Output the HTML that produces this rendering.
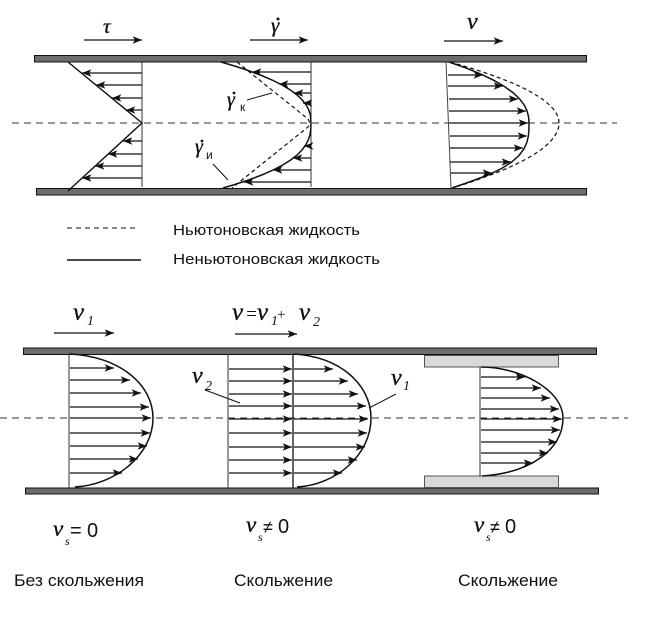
<!DOCTYPE html>
<html><head><meta charset="utf-8"><style>
html,body{margin:0;padding:0;background:#fff;}
svg{display:block;}
.ser{font-family:"Liberation Serif",serif;font-style:italic;fill:#111;stroke:#111;stroke-width:0.35;}
.sub{font-family:"Liberation Serif",serif;font-style:italic;fill:#111;}
.sans{font-family:"Liberation Sans",sans-serif;fill:#111;}
</style></head><body>
<svg width="667" height="624" viewBox="0 0 667 624" xmlns="http://www.w3.org/2000/svg">
<defs>
<marker id="ah" viewBox="0 0 10 8" refX="10" refY="4" markerWidth="10" markerHeight="7.5" orient="auto" markerUnits="userSpaceOnUse">
<path d="M0,0 L10,4 L0,8 L2.5,4 Z" fill="#111"/>
</marker>
</defs>

<!-- ================= TOP DIAGRAM ================= -->
<g stroke="#111" stroke-width="1.3" fill="none" marker-end="url(#ah)">
<line x1="84" y1="40" x2="142" y2="40"/>
<line x1="250" y1="40" x2="308" y2="40"/>
<line x1="444" y1="41" x2="503" y2="41"/>
</g>
<text class="ser" x="103" y="33" font-size="21">τ</text>
<text class="ser" x="271" y="32" font-size="21">γ</text>
<circle cx="278" cy="19" r="1.5" fill="#111"/>
<text class="ser" x="467" y="29" font-size="24">ν</text>

<line x1="12" y1="123" x2="617" y2="123" stroke="#333" stroke-width="1" stroke-dasharray="7,5"/>

<rect x="34.5" y="55.5" width="552" height="6.5" fill="#6d6d6d" stroke="#111" stroke-width="1"/>
<rect x="36.5" y="188.5" width="550" height="6.5" fill="#6d6d6d" stroke="#111" stroke-width="1"/>

<!-- section 1: tau -->
<line x1="142" y1="62" x2="142" y2="187" stroke="#333" stroke-width="1"/>
<polyline points="68,62 142,123 68,191" fill="none" stroke="#111" stroke-width="1.4"/>
<g stroke="#111" stroke-width="1.2" fill="none" marker-end="url(#ah)">
<line x1="142" y1="73" x2="82" y2="73"/>
<line x1="142" y1="85" x2="96" y2="85"/>
<line x1="142" y1="98" x2="112" y2="98"/>
<line x1="142" y1="110" x2="126" y2="110"/>
<line x1="142" y1="141" x2="123" y2="141"/>
<line x1="142" y1="154" x2="108" y2="154"/>
<line x1="142" y1="166" x2="95" y2="166"/>
<line x1="142" y1="178" x2="82" y2="178"/>
</g>

<!-- section 2: gamma dot -->
<line x1="311" y1="62" x2="311" y2="187" stroke="#333" stroke-width="1"/>
<path d="M237,62 L308,119 Q311,123 308,127 L232,188" fill="none" stroke="#111" stroke-width="1.2" stroke-dasharray="4,3"/>
<polyline fill="none" stroke="#111" stroke-width="1.5" points="221,62 234.6,66 246.8,70 260.4,75 272.1,80 282.1,85 290.4,90 297.1,95 302.3,100 306.2,105 308.8,110 310.4,115 311,123 310.7,130 309.9,135 308.3,140 305.7,145 302,150 297.1,155 290.7,160 282.7,165 273.1,170 261.7,175 248.5,180 233.2,185 223,188"/>
<g stroke="#111" stroke-width="1.2" fill="none" marker-end="url(#ah)">
<line x1="311" y1="72" x2="252" y2="72"/>
<line x1="311" y1="84" x2="279" y2="84"/>
<line x1="311" y1="93" x2="294" y2="93"/>
<line x1="311" y1="103" x2="303" y2="103"/>
<line x1="311" y1="146" x2="304" y2="146"/>
<line x1="311" y1="158" x2="293" y2="158"/>
<line x1="311" y1="170" x2="273" y2="170"/>
<line x1="311" y1="182" x2="244" y2="182"/>
</g>
<line x1="247" y1="100" x2="272" y2="93" stroke="#111" stroke-width="1"/>
<text class="ser" x="227" y="106" font-size="20">γ</text>
<circle cx="234" cy="93" r="1.4" fill="#111"/>
<text class="sans" x="240" y="111" font-size="12">к</text>
<line x1="213" y1="164" x2="228" y2="180" stroke="#111" stroke-width="1"/>
<text class="ser" x="195" y="153" font-size="20">γ</text>
<circle cx="202" cy="141" r="1.4" fill="#111"/>
<text class="sans" x="206" y="159" font-size="12">и</text>

<!-- section 3: velocity -->
<line x1="446" y1="62" x2="451" y2="188" stroke="#444" stroke-width="1"/>
<path d="M450,62 Q559,92.5 559,123 Q559,155.5 452,188" fill="none" stroke="#111" stroke-width="1.2" stroke-dasharray="4,3"/>
<polyline fill="none" stroke="#111" stroke-width="1.5" points="449,62 466.2,68.1 481.1,74.2 493.8,80.3 504.3,86.4 512.8,92.5 519.3,98.6 524,104.7 527,110.8 528.6,116.9 529,123 528.9,129.5 528.4,136 526.8,142.5 523.9,149 519,155.5 511.7,162 501.6,168.5 488,175 470.7,181.5 452,188"/>
<g stroke="#111" stroke-width="1.2" fill="none" marker-end="url(#ah)">
<line x1="448" y1="75" x2="483" y2="75"/>
<line x1="448" y1="86" x2="503" y2="86"/>
<line x1="449" y1="99" x2="518" y2="99"/>
<line x1="449" y1="111" x2="526" y2="111"/>
<line x1="449" y1="123" x2="528" y2="123"/>
<line x1="450" y1="136" x2="527" y2="136"/>
<line x1="450" y1="148" x2="523" y2="148"/>
<line x1="450" y1="162" x2="511" y2="162"/>
<line x1="451" y1="173" x2="492" y2="173"/>
</g>

<!-- legend -->
<line x1="67" y1="228" x2="138" y2="228" stroke="#111" stroke-width="1" stroke-dasharray="5,4"/>
<text class="sans" x="173" y="235" font-size="15" textLength="187" lengthAdjust="spacingAndGlyphs">Ньютоновская жидкость</text>
<line x1="67" y1="260" x2="141" y2="260" stroke="#111" stroke-width="1.5"/>
<text class="sans" x="173" y="264" font-size="15" textLength="207" lengthAdjust="spacingAndGlyphs">Неньютоновская жидкость</text>

<!-- ================= BOTTOM DIAGRAM ================= -->
<g stroke="#111" stroke-width="1.3" fill="none" marker-end="url(#ah)">
<line x1="54" y1="333" x2="114" y2="333"/>
<line x1="235" y1="334" x2="297" y2="334"/>
</g>
<text class="ser" x="73" y="320" font-size="25">ν</text>
<text class="sub" x="87" y="325" font-size="14">1</text>

<text class="ser" x="232" y="320" font-size="25">ν</text>
<text class="sub" x="245" y="320" font-size="19" font-style="normal">=</text>
<text class="ser" x="257" y="320" font-size="25">ν</text>
<text class="sub" x="271" y="325" font-size="14">1</text>
<text class="sub" x="276" y="319" font-size="15" font-style="normal" fill="#555">+</text>
<text class="ser" x="299" y="320" font-size="25">ν</text>
<text class="sub" x="313" y="326" font-size="14">2</text>

<line x1="0" y1="418" x2="628" y2="418" stroke="#333" stroke-width="1" stroke-dasharray="7,5"/>

<rect x="23.5" y="348" width="573" height="6.5" fill="#6d6d6d" stroke="#111" stroke-width="1"/>
<rect x="25.5" y="488" width="573" height="6" fill="#6d6d6d" stroke="#111" stroke-width="1"/>

<!-- section 1 -->
<line x1="69" y1="354" x2="69" y2="488" stroke="#333" stroke-width="1"/>
<path d="M69,354 C120,356 153,385 153,418 C153,455 115,485 75,487" fill="none" stroke="#111" stroke-width="1.5"/>
<g stroke="#111" stroke-width="1.2" fill="none" marker-end="url(#ah)">
<line x1="70" y1="368" x2="114" y2="368"/>
<line x1="70" y1="380" x2="130" y2="380"/>
<line x1="70" y1="393" x2="141" y2="393"/>
<line x1="70" y1="407" x2="149" y2="407"/>
<line x1="70" y1="418" x2="151" y2="418"/>
<line x1="70" y1="433" x2="150" y2="433"/>
<line x1="70" y1="446" x2="147" y2="446"/>
<line x1="70" y1="459" x2="138" y2="459"/>
<line x1="70" y1="473" x2="122" y2="473"/>
</g>

<!-- section 2 -->
<line x1="228" y1="354" x2="228" y2="488" stroke="#333" stroke-width="1"/>
<line x1="293" y1="354" x2="293" y2="488" stroke="#111" stroke-width="1.3"/>
<path d="M293,354 C340,356 371,385 371,418 C371,455 336,485 297,487" fill="none" stroke="#111" stroke-width="1.5"/>
<g stroke="#111" stroke-width="1.2" fill="none" marker-end="url(#ah)">
<line x1="229" y1="369" x2="292" y2="369"/>
<line x1="229" y1="381" x2="292" y2="381"/>
<line x1="229" y1="394" x2="292" y2="394"/>
<line x1="229" y1="406" x2="292" y2="406"/>
<line x1="229" y1="419" x2="292" y2="419"/>
<line x1="229" y1="433" x2="292" y2="433"/>
<line x1="229" y1="447" x2="292" y2="447"/>
<line x1="229" y1="460" x2="292" y2="460"/>
<line x1="229" y1="473" x2="292" y2="473"/>
<line x1="294" y1="369" x2="333" y2="369"/>
<line x1="294" y1="381" x2="348" y2="381"/>
<line x1="294" y1="394" x2="358" y2="394"/>
<line x1="294" y1="406" x2="366" y2="406"/>
<line x1="294" y1="419" x2="368" y2="419"/>
<line x1="294" y1="433" x2="367" y2="433"/>
<line x1="294" y1="447" x2="365" y2="447"/>
<line x1="294" y1="460" x2="357" y2="460"/>
<line x1="294" y1="473" x2="342" y2="473"/>
</g>
<line x1="205" y1="390" x2="240" y2="403" stroke="#111" stroke-width="1"/>
<text class="ser" x="192" y="383" font-size="24">ν</text>
<text class="sub" x="205" y="390" font-size="14" font-style="normal">2</text>
<line x1="396" y1="394" x2="369" y2="408" stroke="#111" stroke-width="1"/>
<text class="ser" x="391" y="385" font-size="24">ν</text>
<text class="sub" x="403" y="390" font-size="14">1</text>

<!-- section 3 -->
<rect x="424.5" y="355.5" width="134" height="11.5" fill="#d9d9d9" stroke="#555" stroke-width="1"/>
<rect x="424.5" y="476" width="134" height="11.5" fill="#d9d9d9" stroke="#555" stroke-width="1"/>
<line x1="480" y1="367" x2="480" y2="476" stroke="#333" stroke-width="1"/>
<path d="M481,367 C520,367 563,390 563,418 C563,450 530,473 482,476" fill="none" stroke="#111" stroke-width="1.5"/>
<g stroke="#111" stroke-width="1.2" fill="none" marker-end="url(#ah)">
<line x1="481" y1="377" x2="525" y2="377"/>
<line x1="481" y1="388" x2="541" y2="388"/>
<line x1="481" y1="398" x2="550" y2="398"/>
<line x1="481" y1="409" x2="559" y2="409"/>
<line x1="481" y1="419" x2="562" y2="419"/>
<line x1="481" y1="430" x2="560" y2="430"/>
<line x1="481" y1="442" x2="557" y2="442"/>
<line x1="481" y1="453" x2="548" y2="453"/>
<line x1="481" y1="463" x2="533" y2="463"/>
</g>

<!-- slip labels -->
<text class="ser" x="53" y="536" font-size="23">ν</text>
<text class="sub" x="65" y="545" font-size="12">s</text>
<text class="sans" x="70" y="537" font-size="20" fill="#777">=</text>
<text class="sans" x="87" y="537" font-size="20">0</text>

<text class="ser" x="246" y="532" font-size="23">ν</text>
<text class="sub" x="258" y="541" font-size="12">s</text>
<text class="sans" x="263" y="533" font-size="18">≠</text>
<text class="sans" x="278" y="533" font-size="20">0</text>

<text class="ser" x="474" y="532" font-size="23">ν</text>
<text class="sub" x="486" y="541" font-size="12">s</text>
<text class="sans" x="490" y="533" font-size="18">≠</text>
<text class="sans" x="505" y="533" font-size="20">0</text>

<text class="sans" x="14" y="586" font-size="17" textLength="130" lengthAdjust="spacingAndGlyphs">Без скольжения</text>
<text class="sans" x="234" y="586" font-size="17" textLength="99" lengthAdjust="spacingAndGlyphs">Скольжение</text>
<text class="sans" x="458" y="586" font-size="17" textLength="100" lengthAdjust="spacingAndGlyphs">Скольжение</text>
</svg>
</body></html>
